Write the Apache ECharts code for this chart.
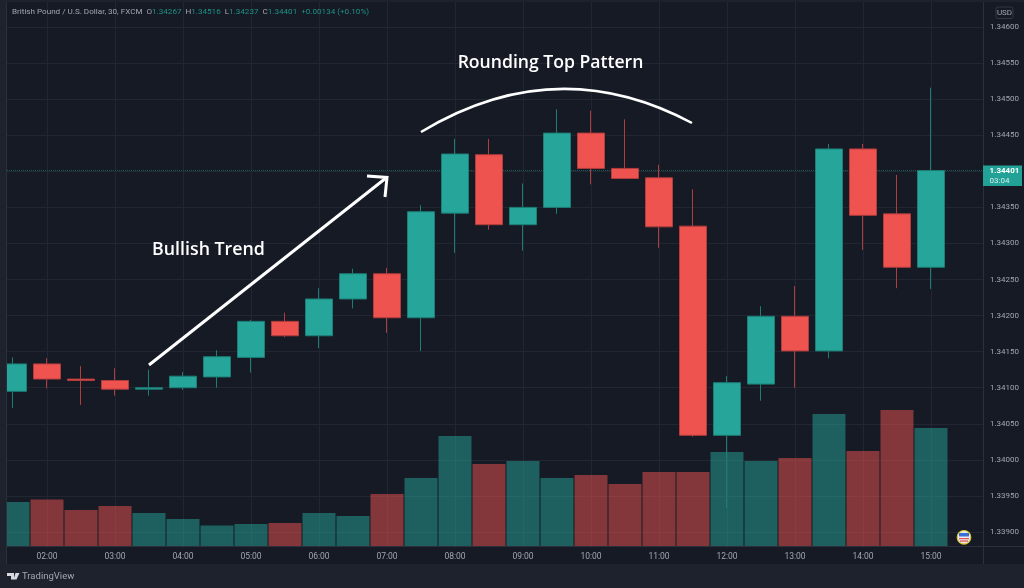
<!DOCTYPE html>
<html>
<head>
<meta charset="utf-8">
<title>Rounding Top Pattern</title>
<style>
    html, body { margin: 0; padding: 0; background: #161a25; }
    #chart { width: 1024px; height: 588px; }
</style>
</head>
<body>
<div id="chart"></div>
<script src="https://cdn.jsdelivr.net/npm/echarts@6/dist/echarts.min.js"></script>
<script>
    // half-hour bars, GBP/USD 30 min
    var times = ['01:30', '02:00', '02:30', '03:00', '03:30', '04:00', '04:30', '05:00', '05:30', '06:00',
        '06:30', '07:00', '07:30', '08:00', '08:30', '09:00', '09:30', '10:00', '10:30', '11:00',
        '11:30', '12:00', '12:30', '13:00', '13:30', '14:00', '14:30', '15:00'];
    var opens = [1.34095, 1.34133, 1.34112, 1.34110, 1.34098, 1.34100, 1.34115, 1.34142, 1.34192, 1.34172,
        1.34223, 1.34258, 1.34197, 1.34342, 1.34423, 1.34326, 1.34350, 1.34453, 1.34404, 1.34391,
        1.34324, 1.34034, 1.34105, 1.34199, 1.34151, 1.34431, 1.34341, 1.34267];
    var closes = [1.34133, 1.34112, 1.34110, 1.34098, 1.34100, 1.34116, 1.34143, 1.34192, 1.34172, 1.34223,
        1.34258, 1.34197, 1.34344, 1.34424, 1.34326, 1.34350, 1.34453, 1.34404, 1.34390, 1.34323,
        1.34034, 1.34107, 1.34199, 1.34151, 1.34431, 1.34339, 1.34267, 1.34401];
    var lows = [1.34072, 1.34099, 1.34076, 1.34089, 1.34089, 1.34097, 1.34100, 1.34121, 1.34170, 1.34155,
        1.34210, 1.34176, 1.34151, 1.34287, 1.34319, 1.34290, 1.34341, 1.34382, 1.34390, 1.34294,
        1.34032, 1.33933, 1.34082, 1.34100, 1.34141, 1.34291, 1.34238, 1.34237];
    var highs = [1.34142, 1.34141, 1.34130, 1.34127, 1.34125, 1.34122, 1.34152, 1.34194, 1.34204, 1.34238,
        1.34265, 1.34266, 1.34353, 1.34445, 1.34445, 1.34383, 1.34486, 1.34484, 1.34472, 1.34409,
        1.34375, 1.34116, 1.34213, 1.34241, 1.34438, 1.34438, 1.34395, 1.34516];
    var volumes = [44, 46.5, 36, 40, 33, 27, 20.5, 22, 23, 33,
        30, 52, 68, 110, 82, 85, 68, 71, 62, 74,
        74, 94, 85, 88, 132, 95, 136, 118];
    var hourTicks = ['02:00', '03:00', '04:00', '05:00', '06:00', '07:00', '08:00', '09:00', '10:00',
        '11:00', '12:00', '13:00', '14:00', '15:00'];
    var priceGrid = [1.339, 1.3395, 1.34, 1.3405, 1.341, 1.3415, 1.342, 1.3425, 1.343, 1.3435,
        1.344, 1.3445, 1.345, 1.3455, 1.346];
    var priceLabels = [1.339, 1.3395, 1.34, 1.3405, 1.341, 1.3415, 1.342, 1.3425, 1.343, 1.3435,
        1.3445, 1.345, 1.3455, 1.346];
    var lastPrice = 1.34401;

    var upColor = '#26a69a', downColor = '#ef5350';
    var upEdge = '#1c7d75', downEdge = '#b03c3c';
    var gridColor = '#222632', lineColor = '#2c303c', textColor = '#a3a6af';
    var frameColor = '#1e222d', plotColor = '#161a25';
    var labelFont = 'Roboto';
    var xMin = 1.4118, xMax = 15.7649;

    function toHour(t) {
        var p = t.split(':');
        return +p[0] + (+p[1]) / 60;
    }

    var candleData = times.map(function (t, i) {
        return [toHour(t), opens[i], closes[i], lows[i], highs[i]];
    });
    var volumeData = times.map(function (t, i) {
        return {
            value: [toHour(t), volumes[i]],
            itemStyle: { color: closes[i] >= opens[i] ? 'rgba(38,166,154,0.5)' : 'rgba(239,83,80,0.5)' }
        };
    });

    var chart = echarts.init(document.getElementById('chart'));
    var option = {
        animation: false,
        backgroundColor: plotColor,
        grid: { left: 7, top: 2, width: 976, height: 544, containLabel: false },
        xAxis: {
            type: 'value',
            min: xMin,
            max: xMax,
            axisLine: { show: true, lineStyle: { color: lineColor } },
            axisTick: { show: false, customValues: hourTicks.map(toHour) },
            axisLabel: {
                customValues: hourTicks.map(toHour),
                color: textColor, fontFamily: labelFont, fontSize: 8.5, margin: 6,
                formatter: function (v) { return (v < 10 ? '0' : '') + v + ':00'; }
            },
            splitLine: { show: true, lineStyle: { color: gridColor } }
        },
        yAxis: [
            {
                type: 'value',
                position: 'right',
                min: 1.338806,
                max: 1.346347,
                axisLine: { show: true, onZero: false, lineStyle: { color: lineColor } },
                axisTick: { show: false, customValues: priceGrid },
                axisLabel: {
                    customValues: priceLabels,
                    color: textColor, fontFamily: labelFont, fontSize: 8, margin: 7,
                    formatter: function (v) { return v.toFixed(5); }
                },
                splitLine: { show: true, lineStyle: { color: gridColor } }
            },
            {
                type: 'value',
                min: 0,
                max: 544,
                show: false
            }
        ],
        series: [
            {
                type: 'line',
                name: 'Last price',
                yAxisIndex: 0,
                silent: true,
                showSymbol: false,
                z: 0,
                lineStyle: { color: '#1d5c58', type: [1, 1], width: 1 },
                data: [[xMin, lastPrice], [xMax, lastPrice]]
            },
            {
                type: 'bar',
                name: 'Volume',
                yAxisIndex: 1,
                barWidth: 33,
                z: 1,
                data: volumeData
            },
            {
                type: 'candlestick',
                name: 'GBPUSD',
                yAxisIndex: 0,
                barWidth: 27,
                z: 2,
                encode: { x: 0, y: [1, 2, 3, 4] },
                itemStyle: {
                    color: upColor, color0: downColor,
                    borderColor: upEdge, borderColor0: downEdge,
                    borderWidth: 1
                },
                data: candleData
            }
        ],
        graphic: [
            // frame around the plot
            { type: 'rect', z: 50, shape: { x: 0, y: 0, width: 6, height: 588 }, style: { fill: frameColor } },
            { type: 'rect', z: 50, shape: { x: 0, y: 0, width: 1024, height: 2 }, style: { fill: frameColor } },
            { type: 'rect', z: 50, shape: { x: 0, y: 564, width: 1024, height: 24 }, style: { fill: frameColor } },
            { type: 'line', z: 50, shape: { x1: 983.5, y1: 546, x2: 983.5, y2: 564 }, style: { stroke: lineColor } },
            { type: 'line', z: 50, shape: { x1: 983, y1: 546.5, x2: 1024, y2: 546.5 }, style: { stroke: lineColor } },
            { type: 'line', z: 50, shape: { x1: 6.5, y1: 2, x2: 6.5, y2: 564 }, style: { stroke: lineColor } },

            // legend line
            {
                type: 'text', z: 60, x: 12, y: 8,
                style: {
                    text: '{n|British Pound / U.S. Dollar, 30, FXCM}  {n|O}{v|1.34267}  {n|H}{v|1.34516}  {n|L}{v|1.34237}  {n|C}{v|1.34401}  {v|+0.00134 (+0.10%)}',
                    font: '8.1px Roboto',
                    rich: {
                        n: { fill: textColor, font: '8.1px Roboto' },
                        v: { fill: '#1f9186', font: '8.1px Roboto' }
                    }
                }
            },

            // currency box
            { type: 'rect', z: 60, shape: { x: 996, y: 7, width: 17, height: 11.5, r: 2 }, style: { fill: 'none', stroke: '#333743' } },
            { type: 'text', z: 60, x: 1004.5, y: 12.7, style: { text: 'USD', font: '8px Roboto', fill: textColor, align: 'center', verticalAlign: 'middle' } },

            // last price tag
            { type: 'rect', z: 60, shape: { x: 983, y: 165.5, width: 39, height: 20.5 }, style: { fill: '#22a196' } },
            { type: 'text', z: 61, x: 989.5, y: 171, style: { text: '1.34401', font: 'bold 8px Roboto', fill: '#ffffff', verticalAlign: 'middle' } },
            { type: 'text', z: 61, x: 989.5, y: 180.5, style: { text: '03:04', font: '8px Roboto', fill: '#d4efec', verticalAlign: 'middle' } },

            // annotation drawn over the chart
            { type: 'line', z: 70, shape: { x1: 149, y1: 365, x2: 386, y2: 178 }, style: { stroke: '#ffffff', lineWidth: 3 } },
            { type: 'polyline', z: 70, shape: { points: [[367, 176], [387, 177.5], [385, 197]] }, style: { stroke: '#ffffff', lineWidth: 3, fill: 'none' } },
            { type: 'bezierCurve', z: 70, shape: { x1: 421, y1: 132, cpx1: 556, cpy1: 50.5, x2: 692, y2: 123 }, style: { stroke: '#ffffff', lineWidth: 2.5, fill: 'none' } },
            { type: 'text', z: 70, x: 208.5, y: 250, style: { text: 'Bullish Trend', font: '600 17.8px "Open Sans"', fill: '#ffffff', align: 'center', verticalAlign: 'middle' } },
            { type: 'text', z: 70, x: 550.5, y: 62.5, style: { text: 'Rounding Top Pattern', font: '600 17.6px "Open Sans"', fill: '#ffffff', align: 'center', verticalAlign: 'middle' } },

            // event flag
            { type: 'circle', z: 60, shape: { cx: 964, cy: 537.3, r: 6.8 }, style: { fill: '#e9ecf2', stroke: '#d9c52a', lineWidth: 1.2 } },
            { type: 'rect', z: 61, shape: { x: 959, y: 533, width: 10, height: 3.5 }, style: { fill: '#3a6fd8' } },
            { type: 'rect', z: 61, shape: { x: 959, y: 538, width: 10, height: 1.3 }, style: { fill: '#e05555' } },
            { type: 'rect', z: 61, shape: { x: 960, y: 540.4, width: 8, height: 1.3 }, style: { fill: '#e05555' } },

            // footer logo
            { type: 'polygon', z: 60, shape: { points: [[7, 573], [14, 573], [14, 579.5], [11, 579.5], [11, 576], [7, 576]] }, style: { fill: '#d6d8de' } },
            { type: 'polygon', z: 60, shape: { points: [[15.5, 573], [19.5, 573], [16.5, 579.5], [13.5, 579.5]] }, style: { fill: '#d6d8de' } },
            { type: 'text', z: 60, x: 22, y: 576.5, style: { text: 'TradingView', font: '9.5px Roboto', fill: '#a3a6af', verticalAlign: 'middle' } }
        ]
    };
    chart.setOption(option);
</script>
</body>
</html>
